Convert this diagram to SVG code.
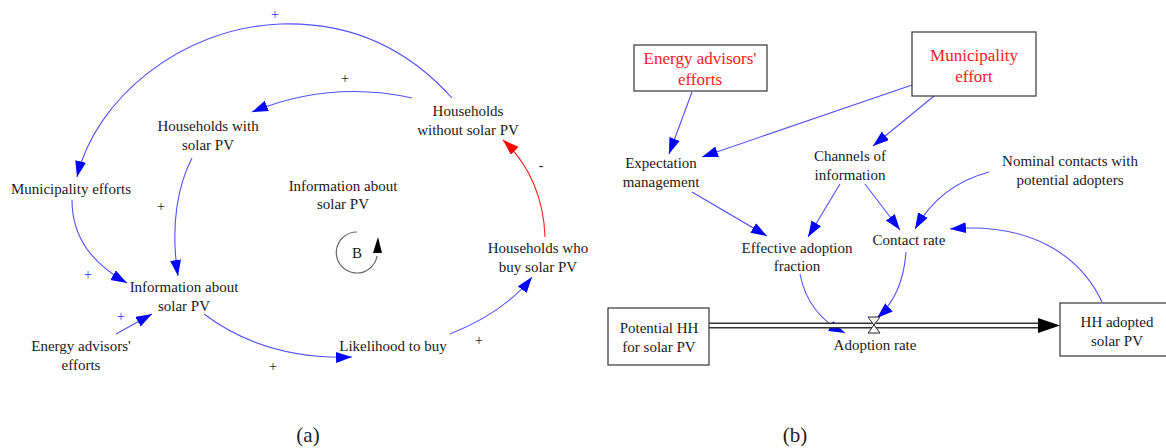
<svg xmlns="http://www.w3.org/2000/svg" width="1166" height="448" viewBox="0 0 1166 448" font-family="Liberation Serif, Times New Roman, serif">
<style>
text{font-family:"Liberation Serif","Times New Roman",serif;font-size:15px;fill:#1a1a1a;text-anchor:middle}
.red{fill:#ff2020;font-size:17px}
.pl{font-size:14px}
.blue{fill:#3030ff}
.cap{font-size:21px;fill:#222}
.ln{fill:none;stroke:#5050ff;stroke-width:1.1}
.lr{fill:none;stroke:#ff2020;stroke-width:1.1}
.box{fill:#fff;stroke:#444;stroke-width:1.3}
</style>
<defs>
<marker id="ab" markerUnits="userSpaceOnUse" markerWidth="18" markerHeight="12" refX="16" refY="5.5" orient="auto"><path d="M0,0 L16,5.5 L0,11 z" fill="#0000ff"/></marker>
<marker id="ar" markerUnits="userSpaceOnUse" markerWidth="18" markerHeight="12" refX="16" refY="5.5" orient="auto"><path d="M0,0 L16,5.5 L0,11 z" fill="#ff0000"/></marker>
</defs>
<g id="connectors">
<path class="ln" d="M452,98 C400,40 340,22 280,24 C180,28 95,100 77,177" marker-end="url(#ab)"/>
<path class="ln" d="M412,98 Q330,80 252,112" marker-end="url(#ab)"/>
<path class="ln" d="M192,158 C178,185 170,225 178,276" marker-end="url(#ab)"/>
<path class="ln" d="M72,200 C72,240 95,265 127,283" marker-end="url(#ab)"/>
<path class="ln" d="M116,334 L152,314" marker-end="url(#ab)"/>
<path class="ln" d="M204,314 Q265,360 352,357" marker-end="url(#ab)"/>
<path class="ln" d="M450,334 Q505,312 532,277" marker-end="url(#ab)"/>
<path class="lr" d="M545,237 C544,200 530,165 503,140" marker-end="url(#ar)"/>
<path class="ln" d="M692,92 L669,154" marker-end="url(#ab)"/>
<path class="ln" d="M912,85 L702,157" marker-end="url(#ab)"/>
<path class="ln" d="M934,96 L873,146" marker-end="url(#ab)"/>
<path class="ln" d="M692,192 L767,236" marker-end="url(#ab)"/>
<path class="ln" d="M840,184 L808,237" marker-end="url(#ab)"/>
<path class="ln" d="M865,184 L900,230" marker-end="url(#ab)"/>
<path class="ln" d="M989,172 Q940,185 915,229" marker-end="url(#ab)"/>
<path class="ln" d="M906,252 Q903,295 877,318" marker-end="url(#ab)"/>
<path class="ln" d="M800,274 Q808,315 845,333" marker-end="url(#ab)"/>
<path class="ln" d="M1102,302 C1080,255 1030,222 950,229" marker-end="url(#ab)"/>
<text class="blue pl" x="275" y="19">+</text>
<text class="pl" x="345" y="83">+</text>
<text class="pl" x="161" y="211">+</text>
<text class="blue pl" x="88" y="279">+</text>
<text class="blue pl" x="121" y="321">+</text>
<text class="pl" x="273" y="371">+</text>
<text class="pl" x="479" y="345">+</text>
<text class="pl" x="541" y="170">-</text>
</g>
<g id="loopB">
<path d="M357,232 A20.5,20.5 0 1,0 377,256" fill="none" stroke="#666" stroke-width="1.2"/>
<path d="M373,253 L378,237 L382,253 z" fill="#000"/>
<text x="357" y="258">B</text>
</g>
<g id="hh-with"><text x="208" y="131">Households with</text><text x="208" y="150">solar PV</text></g>
<g id="municipality-efforts"><text x="71" y="194">Municipality efforts</text></g>
<g id="hh-without"><text x="468" y="116">Households</text><text x="468" y="135">without solar PV</text></g>
<g id="info-center"><text x="343" y="191">Information about</text><text x="343" y="209">solar PV</text></g>
<g id="hh-buy"><text x="538" y="253">Households who</text><text x="538" y="272">buy solar PV</text></g>
<g id="likelihood"><text x="393" y="351">Likelihood to buy</text></g>
<g id="info-node"><text x="184" y="292">Information about</text><text x="184" y="311">solar PV</text></g>
<g id="energy-a"><text x="81" y="351">Energy advisors'</text><text x="81" y="370">efforts</text></g>
<g id="energy-box"><rect class="box" x="634" y="45" width="133" height="46"/><text class="red" x="700" y="64">Energy advisors'</text><text class="red" x="700" y="85">efforts</text></g>
<g id="municipality-box"><rect class="box" x="912" y="32" width="124" height="64"/><text class="red" x="974" y="61">Municipality</text><text class="red" x="974" y="82">effort</text></g>
<g id="expectation"><text x="661" y="168">Expectation</text><text x="661" y="187">management</text></g>
<g id="channels"><text x="850" y="161">Channels of</text><text x="850" y="180">information</text></g>
<g id="nominal"><text x="1070" y="166">Nominal contacts with</text><text x="1070" y="185">potential adopters</text></g>
<g id="effective"><text x="797" y="253">Effective adoption</text><text x="797" y="271">fraction</text></g>
<g id="contact"><text x="909" y="245">Contact rate</text></g>
<g id="flow">
<line x1="709" y1="325.5" x2="1040" y2="325.5" stroke="#333" stroke-width="6"/>
<line x1="709" y1="325.5" x2="1042" y2="325.5" stroke="#fff" stroke-width="3"/>
<path d="M1038,318 L1060,325.5 L1038,333 z" fill="#000"/>
<path d="M868,317 L880,317 L868,333 L880,333 z" fill="#fff" stroke="#222" stroke-width="1"/>
<text x="875" y="350">Adoption rate</text>
</g>
<g id="potential"><rect class="box" x="608" y="308" width="101" height="57"/><text x="659" y="333">Potential HH</text><text x="659" y="352">for solar PV</text></g>
<g id="adopted"><rect class="box" x="1060" y="303" width="110" height="53"/><text x="1117" y="327">HH adopted</text><text x="1117" y="346">solar PV</text></g>
<text class="cap" x="308" y="442">(a)</text>
<text class="cap" x="795" y="442">(b)</text>
</svg>
